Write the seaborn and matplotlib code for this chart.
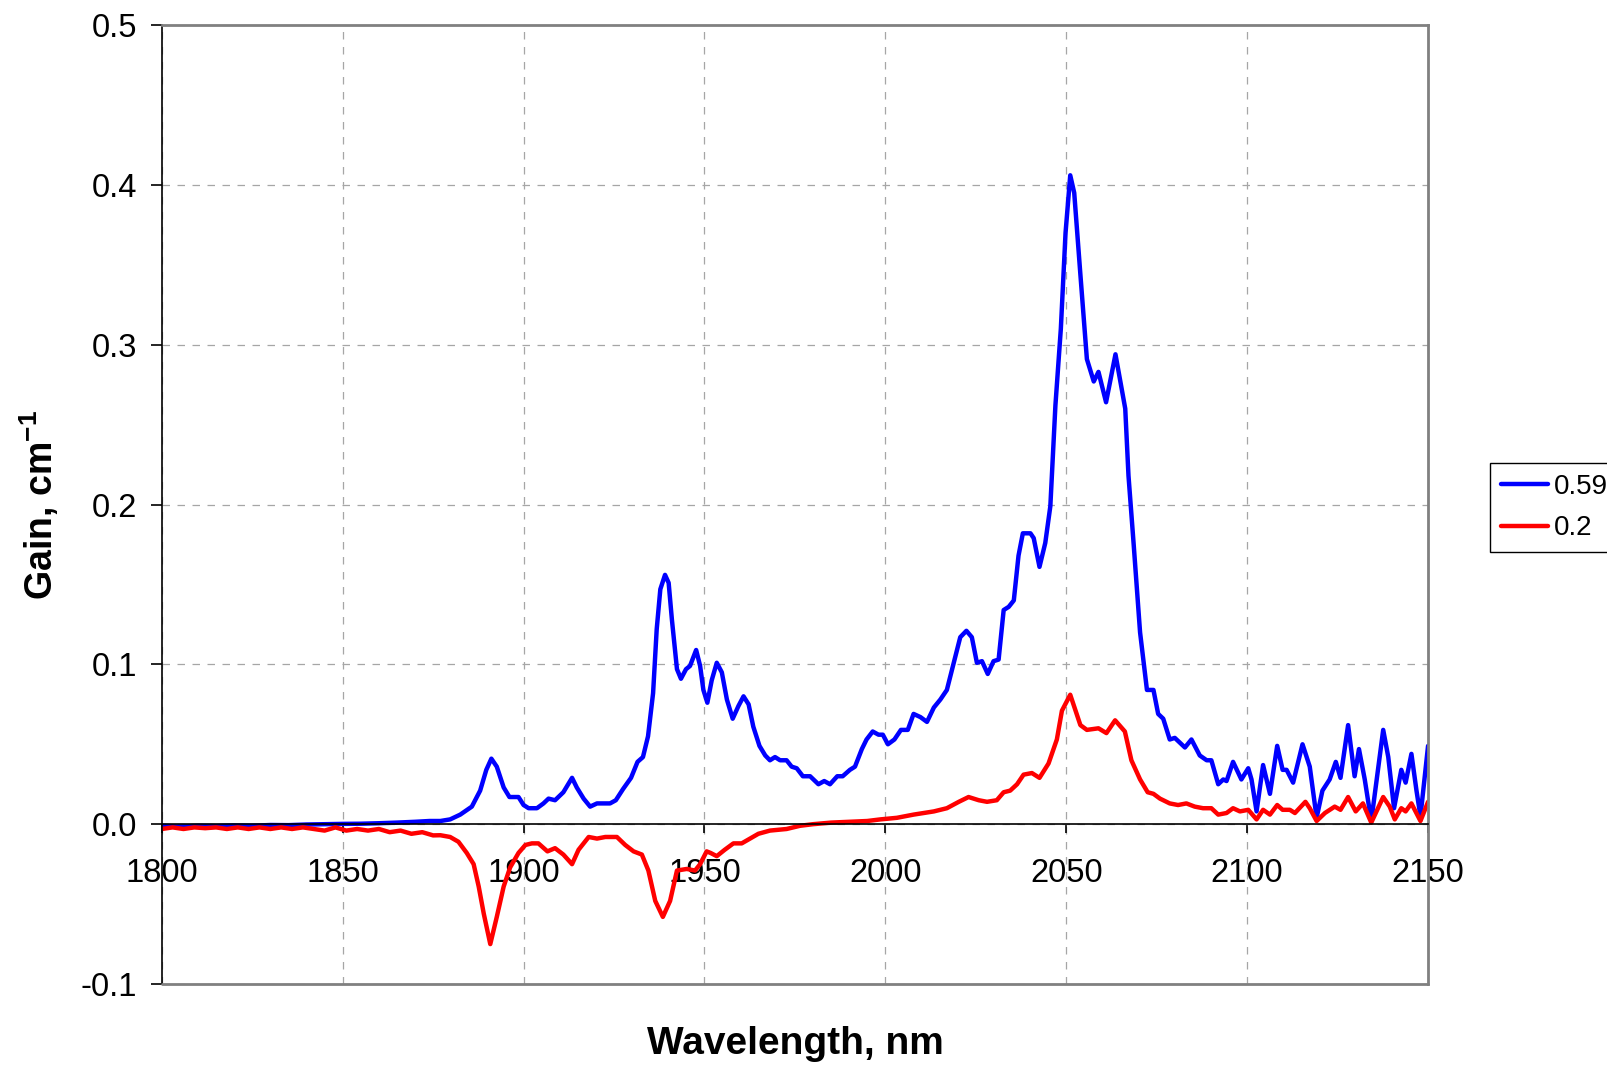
import matplotlib
matplotlib.use("Agg")
import matplotlib.pyplot as plt
import seaborn as sns

# ===============================
# DATA
# ===============================
blue_label = "0.59"
blue_x = [1800, 1805, 1810, 1815, 1820, 1825, 1830, 1835, 1840, 1845, 1850, 1855, 1860, 1865, 1870, 1874,
          1877, 1879.7, 1882.5, 1885.7, 1888.0, 1889.7, 1891.1, 1892.6, 1894.5, 1896.1, 1897.4, 1898.6,
          1900.0, 1901.4, 1903.7, 1905.5, 1906.9, 1908.7, 1911.0, 1913.4, 1914.7, 1916.6, 1918.4, 1920.3,
          1922.1, 1923.9, 1925.5, 1927.5, 1929.7, 1931.5, 1933.0, 1934.4, 1935.8, 1936.8, 1937.8, 1939.1,
          1940.1, 1941.0, 1942.4, 1943.5, 1944.9, 1946.0, 1947.7, 1948.8, 1949.7, 1950.8, 1952.0, 1953.4,
          1954.8, 1956.2, 1957.8, 1959.4, 1960.8, 1962.2, 1963.5, 1965.2, 1966.8, 1968.1, 1969.5, 1970.9,
          1972.7, 1974.1, 1975.5, 1977.2, 1979.2, 1981.5, 1983.1, 1984.7, 1986.7, 1988.2, 1990.2, 1991.6,
          1993.5, 1994.8, 1996.5, 1998.1, 1999.3, 2000.7, 2002.5, 2004.3, 2006.2, 2007.8, 2009.7, 2011.5,
          2013.4, 2015.2, 2017.0, 2018.9, 2020.7, 2022.4, 2023.9, 2025.3, 2026.7, 2028.3, 2029.9, 2031.3,
          2032.7, 2034.1, 2035.5, 2036.8, 2038.0, 2040.1, 2041.0, 2042.6, 2044.2, 2045.6, 2047.0, 2048.5,
          2049.8, 2051.1, 2052.2, 2053.9, 2055.7, 2057.6, 2058.9, 2061.0, 2063.6, 2066.3, 2067.2, 2068.6,
          2070.4, 2072.3, 2074.1, 2075.4, 2076.8, 2078.6, 2080.0, 2082.8, 2084.6, 2086.9, 2088.8, 2090.1,
          2092.0, 2093.4, 2094.3, 2096.1, 2098.4, 2100.3, 2101.2, 2102.6, 2104.4, 2106.3, 2108.3, 2109.8,
          2110.9, 2112.7, 2115.3, 2117.3, 2119.2, 2120.8, 2122.8, 2124.5, 2125.8, 2127.9, 2129.7, 2130.9,
          2132.5, 2134.3, 2137.6, 2139.0, 2140.6, 2142.6, 2143.8, 2145.4, 2146.8, 2147.9, 2150.0]
blue_y = [-0.001, -0.0015, -0.001, -0.0012, -0.0008, -0.001, -0.0005, -0.0006, -0.0002, 0.0, 0.0002, 0.0003,
          0.0006, 0.001, 0.0015, 0.002,
          0.002, 0.003, 0.006, 0.011, 0.021, 0.034, 0.041, 0.036, 0.023, 0.017, 0.017, 0.017,
          0.012, 0.010, 0.010, 0.013, 0.016, 0.015, 0.020, 0.029, 0.023, 0.016, 0.011, 0.013,
          0.013, 0.013, 0.015, 0.022, 0.029, 0.039, 0.042, 0.055, 0.082, 0.122, 0.147, 0.156,
          0.151, 0.128, 0.097, 0.091, 0.097, 0.099, 0.109, 0.099, 0.084, 0.076, 0.090, 0.101,
          0.095, 0.078, 0.066, 0.074, 0.080, 0.075, 0.061, 0.049, 0.043, 0.040, 0.042, 0.040,
          0.040, 0.036, 0.035, 0.030, 0.030, 0.025, 0.027, 0.025, 0.030, 0.030, 0.034, 0.036,
          0.047, 0.053, 0.058, 0.056, 0.056, 0.050, 0.053, 0.059, 0.059, 0.069, 0.067, 0.064,
          0.073, 0.078, 0.084, 0.101, 0.117, 0.121, 0.117, 0.101, 0.102, 0.094, 0.102, 0.103,
          0.134, 0.136, 0.140, 0.168, 0.182, 0.182, 0.179, 0.161, 0.176, 0.199, 0.262, 0.310,
          0.370, 0.406, 0.395, 0.344, 0.291, 0.277, 0.283, 0.264, 0.294, 0.260, 0.218, 0.176,
          0.120, 0.084, 0.084, 0.069, 0.066, 0.053, 0.054, 0.048, 0.053, 0.043, 0.040, 0.040,
          0.025, 0.028, 0.027, 0.039, 0.028, 0.035, 0.028, 0.008, 0.037, 0.019, 0.049, 0.034,
          0.034, 0.026, 0.050, 0.036, 0.004, 0.021, 0.028, 0.039, 0.029, 0.062, 0.030, 0.047,
          0.028, 0.002, 0.059, 0.042, 0.010, 0.034, 0.026, 0.044, 0.021, 0.005, 0.049]

red_label = "0.2"
red_x = [1800, 1803, 1806, 1809, 1812, 1815, 1818, 1821, 1824, 1827, 1830, 1833, 1836, 1839, 1842, 1845,
         1848, 1851, 1854, 1857, 1860, 1863, 1866, 1869, 1872, 1875, 1877, 1879.7, 1882.0, 1884.3, 1886.2,
         1887.6, 1889.0, 1890.8, 1892.6, 1894.5, 1896.3, 1898.6, 1900.5, 1902.3, 1904.1, 1906.6, 1908.7,
         1911.0, 1913.4, 1915.2, 1918.0, 1920.3, 1922.6, 1925.8, 1928.1, 1930.4, 1932.7, 1934.5, 1936.4,
         1938.5, 1940.5, 1942.4, 1945.1, 1947.4, 1948.8, 1950.6, 1951.7, 1953.4, 1955.6, 1958.0, 1960.3,
         1962.6, 1964.9, 1968.1, 1972.7, 1976.4, 1980, 1985, 1990, 1995, 1998.6, 2003.2, 2007.8, 2013.4,
         2017.0, 2020.3, 2023.0, 2025.8, 2028.1, 2030.8, 2032.7, 2034.5, 2036.4, 2038.2, 2040.5, 2042.6,
         2045.1, 2047.4, 2048.8, 2051.1, 2053.9, 2055.7, 2058.9, 2061.1, 2063.5, 2066.2, 2068.0, 2070.4,
         2072.5, 2074.1, 2075.9, 2078.6, 2080.9, 2083.2, 2085.5, 2087.8, 2090.1, 2092.0, 2094.3, 2096.1,
         2098.0, 2100.3, 2102.6, 2104.4, 2106.3, 2108.3, 2109.8, 2111.8, 2113.2, 2116.1, 2117.3, 2119.2,
         2121.5, 2124.2, 2125.8, 2127.9, 2130.0, 2132.0, 2134.3, 2137.6, 2139.4, 2140.8, 2142.6, 2143.8,
         2145.4, 2147.9, 2150.0]
red_y = [-0.003, -0.002, -0.003, -0.002, -0.0025, -0.002, -0.003, -0.002, -0.003, -0.002, -0.003, -0.002,
         -0.003, -0.002, -0.003, -0.004, -0.002, -0.004, -0.003, -0.004, -0.003, -0.005, -0.004, -0.006,
         -0.005, -0.007, -0.0069, -0.008, -0.011, -0.018, -0.025,
         -0.039, -0.056, -0.075, -0.058, -0.039, -0.027, -0.018, -0.013, -0.012, -0.012, -0.017, -0.015,
         -0.019, -0.025, -0.016, -0.008, -0.009, -0.008, -0.008, -0.013, -0.017, -0.019, -0.029, -0.048,
         -0.058, -0.048, -0.029, -0.028, -0.029, -0.025, -0.017, -0.018, -0.020, -0.016, -0.012, -0.012,
         -0.009, -0.006, -0.004, -0.003, -0.001, 0.0, 0.001, 0.0015, 0.002, 0.003, 0.004, 0.006, 0.008,
         0.010, 0.014, 0.017, 0.015, 0.014, 0.015, 0.020, 0.021, 0.025, 0.031, 0.032, 0.029,
         0.038, 0.053, 0.071, 0.081, 0.062, 0.059, 0.060, 0.057, 0.065, 0.058, 0.040, 0.028,
         0.020, 0.019, 0.016, 0.013, 0.012, 0.013, 0.011, 0.010, 0.010, 0.006, 0.007, 0.010,
         0.008, 0.009, 0.003, 0.009, 0.006, 0.012, 0.009, 0.009, 0.007, 0.014, 0.010, 0.002,
         0.007, 0.011, 0.009, 0.017, 0.008, 0.013, 0.001, 0.017, 0.011, 0.003, 0.010, 0.008,
         0.013, 0.002, 0.014]

x_ticks = [1800, 1850, 1900, 1950, 2000, 2050, 2100, 2150]
y_ticks = [-0.1, 0.0, 0.1, 0.2, 0.3, 0.4, 0.5]

# ===============================
# STYLE
# ===============================
sns.set_style("white")
plt.rcParams["font.family"] = ["Liberation Sans", "DejaVu Sans"]
plt.rcParams["mathtext.fontset"] = "custom"
plt.rcParams["mathtext.bf"] = "Liberation Sans:bold"
plt.rcParams["mathtext.rm"] = "Liberation Sans"
for key in ["text.color", "axes.labelcolor", "xtick.color", "ytick.color"]:
    plt.rcParams[key] = "black"

fig = plt.figure(figsize=(16.08, 10.66), dpi=100)
ax = fig.add_axes([0.1006, 0.0769, 0.7875, 0.8996])

sns.lineplot(x=blue_x, y=blue_y, color="#0000ff", linewidth=3.2, sort=False, ax=ax, label=blue_label)
sns.lineplot(x=red_x, y=red_y, color="#ff0000", linewidth=3.2, sort=False, ax=ax, label=red_label)
for ln in ax.get_lines():
    ln.set_linewidth(3.2)
    ln.set_solid_joinstyle("round")
    ln.set_solid_capstyle("round")

ax.set_xlim(1800, 2150)
ax.set_ylim(-0.1, 0.5)
ax.set_xticks(x_ticks)
ax.set_yticks(y_ticks)
ax.set_yticklabels([f"{v:.1f}" for v in y_ticks])

ax.set_axisbelow(True)
ax.grid(True, color="#a6a6a6", lw=0.9, ls=(0, (6, 6)))

# plot-area frame: gray top/right/bottom, black left axis, x axis on y=0
for side in ["top", "right"]:
    ax.spines[side].set_color("#808080")
    ax.spines[side].set_linewidth(2)
ax.spines["left"].set_color("black")
ax.spines["left"].set_linewidth(1.2)
ax.spines["bottom"].set_position(("data", 0))
ax.spines["bottom"].set_color("black")
ax.spines["bottom"].set_linewidth(1.2)
ax.axhline(-0.1, color="#808080", lw=2, clip_on=False, zorder=3)

ax.tick_params(axis="y", direction="out", length=8, width=1.2, color="black",
               labelsize=23.5, pad=10, left=True)
ax.tick_params(axis="x", direction="out", length=6.5, width=1.2, color="black",
               labelsize=23.5, pad=18, bottom=True)

ax.set_xlabel("Wavelength, nm", fontsize=28, fontweight="bold")
ax.xaxis.set_label_coords(0.5, -0.0626)
ax.xaxis.label.set_va("center")
ax.set_ylabel(r"Gain, cm$^{\mathbf{-1}}$", fontsize=27, fontweight="bold")
ax.yaxis.set_label_coords(-0.097, 0.5)
ax.yaxis.label.set_va("center")

handles, labels = ax.get_legend_handles_labels()
ax.get_legend().remove()
leg = fig.legend(handles, labels, loc="upper left", bbox_to_anchor=(1490 / 1608, 1 - 463 / 1066),
                 borderaxespad=0, fontsize=20, frameon=True, fancybox=False, framealpha=1,
                 edgecolor="black", handlelength=1.7, handletextpad=0.2, labelspacing=0.55,
                 borderpad=0.4)
leg.get_frame().set_linewidth(1)

fig.savefig("out.png", dpi=100)
